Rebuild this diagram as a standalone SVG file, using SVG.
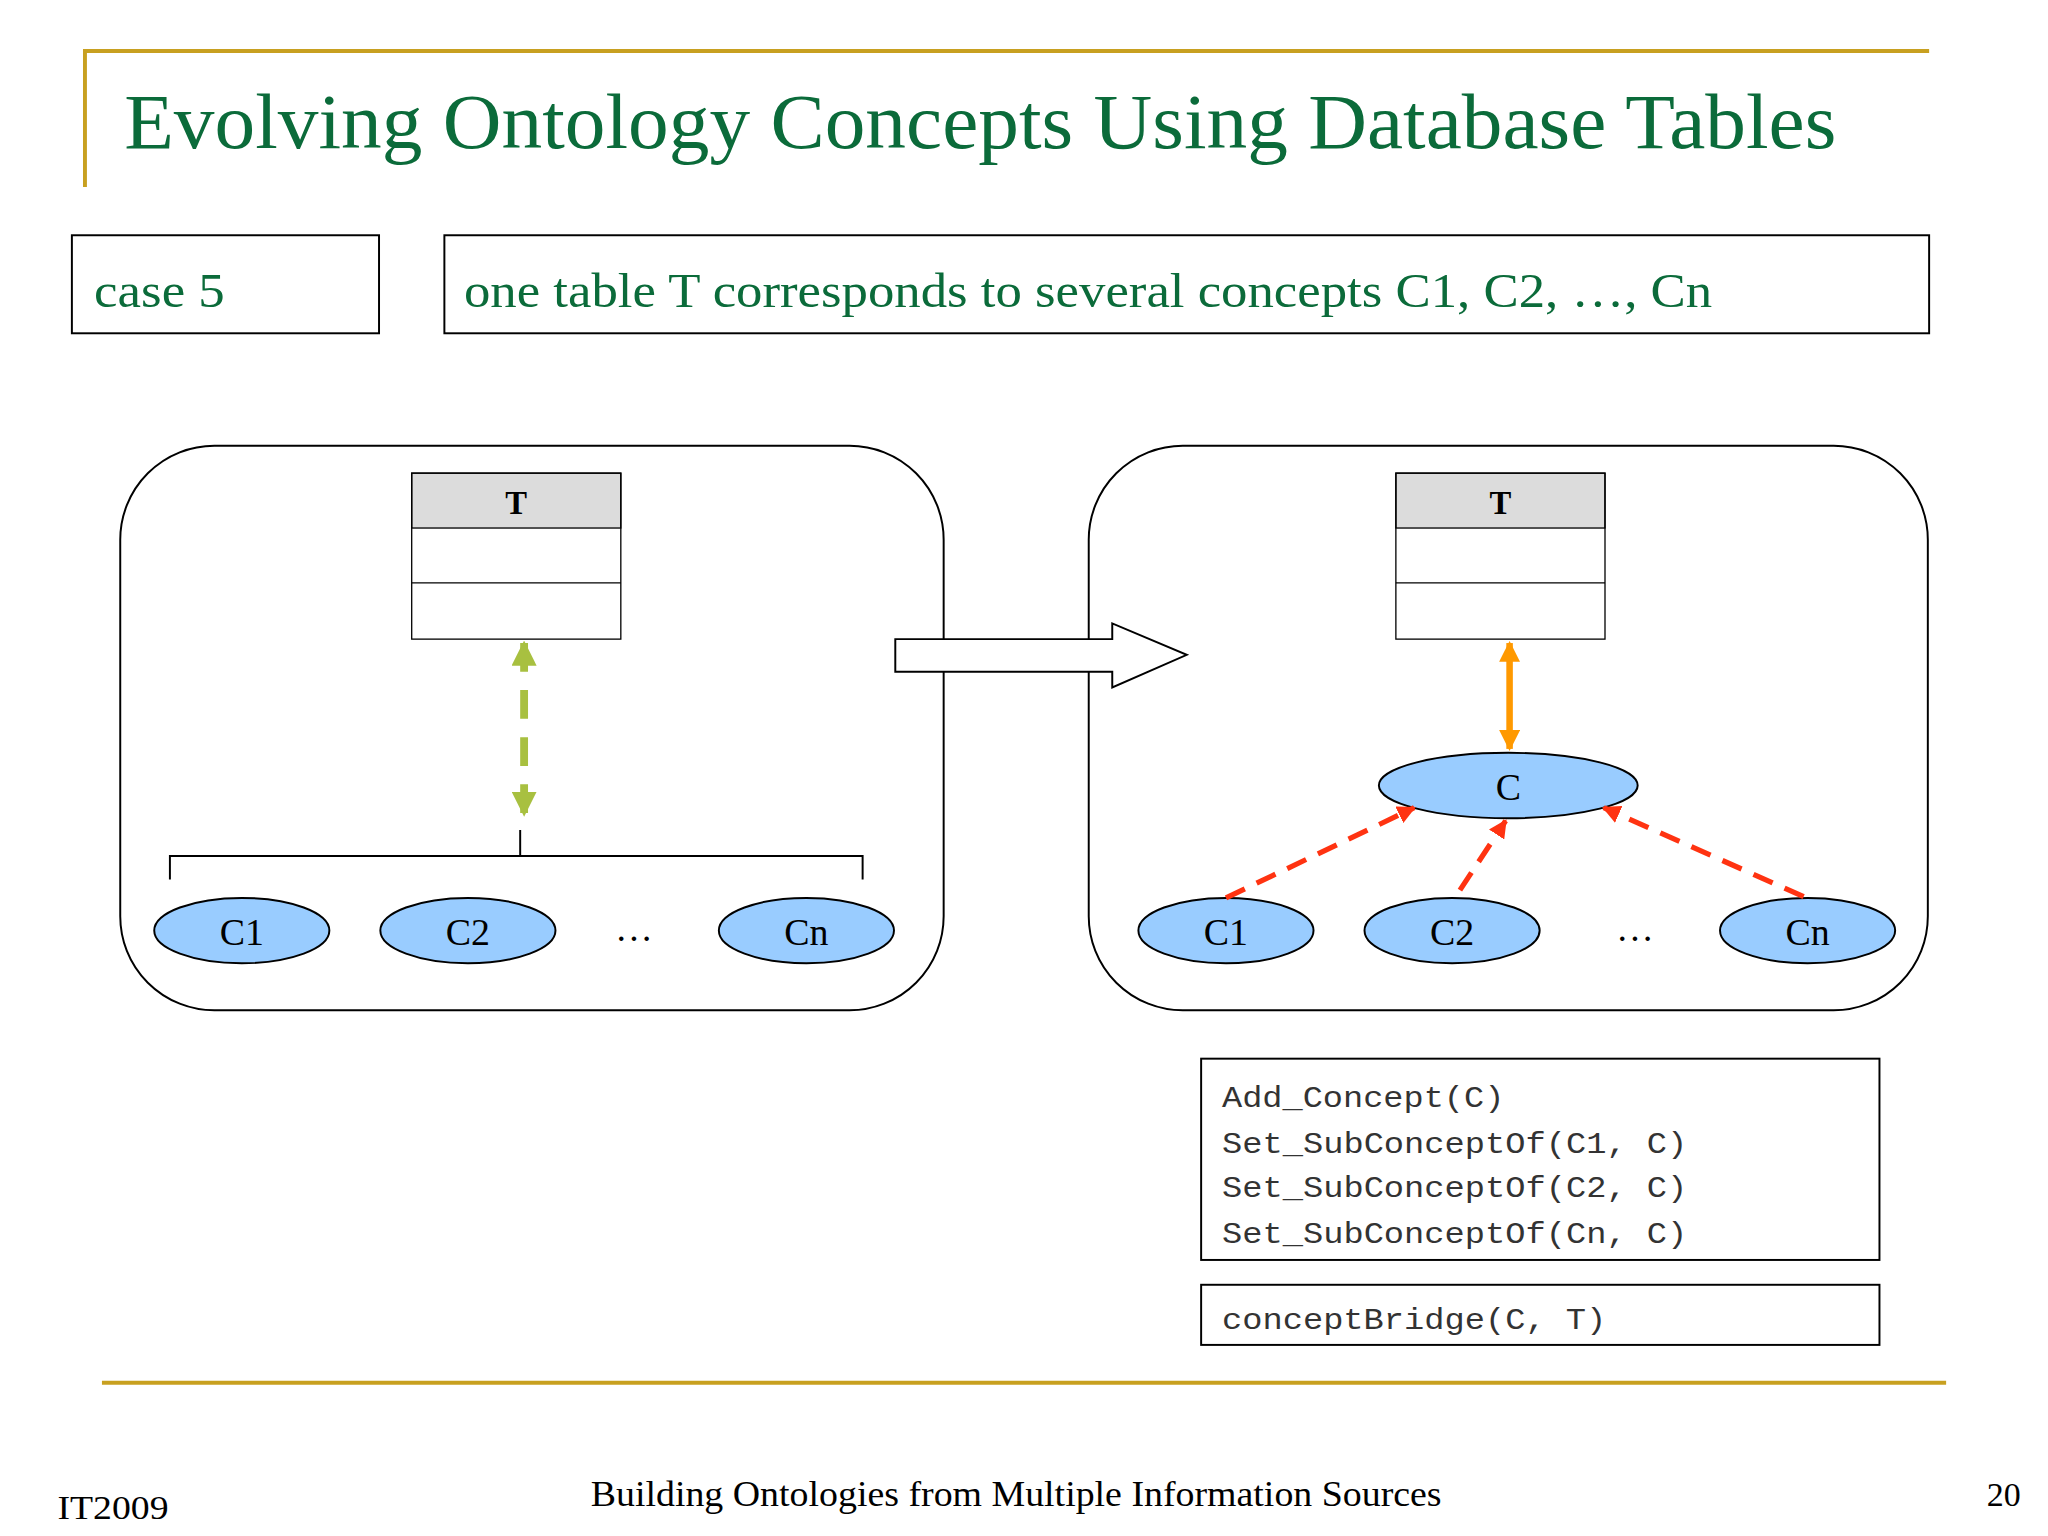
<svg xmlns="http://www.w3.org/2000/svg" width="2048" height="1536" viewBox="0 0 2048 1536">
<defs>
<style>
.s{font-family:"Liberation Serif",serif}
.m{font-family:"Liberation Mono",monospace;font-size:23px;fill:#333}
.box{fill:none;stroke:#000;stroke-width:1.5}
.ell{fill:#99ccff;stroke:#000;stroke-width:1.5}
.lbl{font-family:"Liberation Serif",serif;font-size:29px;text-anchor:middle}
</style>
<marker id="ag" viewBox="0 0 10 10" refX="9" refY="5" markerWidth="3.2" markerHeight="3.2" orient="auto-start-reverse"><path d="M0,0L10,5L0,10z" fill="#a8c040"/></marker>
<marker id="ao" viewBox="0 0 10 10" refX="9" refY="5" markerWidth="3.2" markerHeight="3.2" orient="auto-start-reverse"><path d="M0,0L10,5L0,10z" fill="#ff9900"/></marker>
<marker id="ar" viewBox="0 0 10 10" refX="9" refY="5" markerWidth="3.5" markerHeight="3.5" orient="auto"><path d="M0,0L10,5L0,10z" fill="#ff3311"/></marker>
</defs>
<rect width="2048" height="1536" fill="#fff"/>
<g transform="scale(1.307)">
<g id="title">
<path d="M65,143V39H1476" fill="none" stroke="#c8a020" stroke-width="3"/>
<text x="95" y="113" class="s" font-size="60" fill="#0b6b3a" textLength="1310" lengthAdjust="spacingAndGlyphs">Evolving Ontology Concepts Using Database Tables</text>
</g>
<g id="case"><rect x="55" y="180" width="235" height="75" class="box"/><text x="72" y="235" class="s" font-size="37" fill="#0b6b3a" textLength="100" lengthAdjust="spacingAndGlyphs">case 5</text></g>
<g id="desc"><rect x="340" y="180" width="1136" height="75" class="box"/><text x="355" y="235" class="s" font-size="37" fill="#0b6b3a" textLength="955" lengthAdjust="spacingAndGlyphs">one table T corresponds to several concepts C1, C2, …, Cn</text></g>
<g id="leftPanel"><rect x="92" y="341" width="630" height="432" rx="72" class="box"/></g>
<g id="rightPanel"><rect x="833" y="341" width="642" height="432" rx="72" class="box"/></g>
<g id="tableL"><rect x="315" y="362" width="160" height="42" fill="#dcdcdc" stroke="#000"/><rect x="315" y="362" width="160" height="127" fill="none" stroke="#000"/><line x1="315" y1="446" x2="475" y2="446" stroke="#000"/><text x="395" y="393" class="s" font-size="25" font-weight="bold" text-anchor="middle">T</text></g>
<g id="tableR"><rect x="1068" y="362" width="160" height="42" fill="#dcdcdc" stroke="#000"/><rect x="1068" y="362" width="160" height="127" fill="none" stroke="#000"/><line x1="1068" y1="446" x2="1228" y2="446" stroke="#000"/><text x="1148" y="393" class="s" font-size="25" font-weight="bold" text-anchor="middle">T</text></g>
<g id="L_C1"><ellipse cx="185" cy="712" rx="67" ry="25" class="ell"/><text x="185" y="723" class="lbl">C1</text></g>
<g id="L_C2"><ellipse cx="358" cy="712" rx="67" ry="25" class="ell"/><text x="358" y="723" class="lbl">C2</text></g>
<g id="L_Cn"><ellipse cx="617" cy="712" rx="67" ry="25" class="ell"/><text x="617" y="723" class="lbl">Cn</text></g>
<text x="485" y="720" class="lbl">…</text>
<g id="R_C"><ellipse cx="1154" cy="601" rx="99" ry="25" class="ell"/><text x="1154" y="612" class="lbl">C</text></g>
<g id="R_C1"><ellipse cx="938" cy="712" rx="67" ry="25" class="ell"/><text x="938" y="723" class="lbl">C1</text></g>
<g id="R_C2"><ellipse cx="1111" cy="712" rx="67" ry="25" class="ell"/><text x="1111" y="723" class="lbl">C2</text></g>
<g id="R_Cn"><ellipse cx="1383" cy="712" rx="67" ry="25" class="ell"/><text x="1383" y="723" class="lbl">Cn</text></g>
<text x="1251" y="720" class="lbl">…</text>
<g id="connectors">
<line x1="401" y1="492" x2="401" y2="623" stroke="#a8c040" stroke-width="6" stroke-dasharray="22,14" marker-start="url(#ag)" marker-end="url(#ag)"/>
<path d="M130,673V655H660V673M398,655V635" fill="none" stroke="#000" stroke-width="1.5"/>
<line x1="1155" y1="492" x2="1155" y2="573" stroke="#ff9900" stroke-width="5" marker-start="url(#ao)" marker-end="url(#ao)"/>
<line x1="938" y1="687" x2="1082" y2="618" stroke="#ff3311" stroke-width="4" stroke-dasharray="16,10" marker-end="url(#ar)"/>
<line x1="1117" y1="681" x2="1152" y2="628" stroke="#ff3311" stroke-width="4" stroke-dasharray="16,10" marker-end="url(#ar)"/>
<line x1="1380" y1="686" x2="1227" y2="618" stroke="#ff3311" stroke-width="4" stroke-dasharray="16,10" marker-end="url(#ar)"/>
<path d="M685,489H851V477L908,501L851,526V514H685z" fill="#fff" stroke="#000" stroke-width="1.5"/>
</g>
<g id="code"><rect x="919" y="810" width="519" height="154" class="box"/>
<text x="935" y="847" class="m" textLength="216" lengthAdjust="spacingAndGlyphs">Add_Concept(C)</text>
<text x="935" y="882" class="m" textLength="356" lengthAdjust="spacingAndGlyphs">Set_SubConceptOf(C1, C)</text>
<text x="935" y="916" class="m" textLength="356" lengthAdjust="spacingAndGlyphs">Set_SubConceptOf(C2, C)</text>
<text x="935" y="951" class="m" textLength="356" lengthAdjust="spacingAndGlyphs">Set_SubConceptOf(Cn, C)</text></g>
<g id="bridge"><rect x="919" y="983" width="519" height="46" class="box"/><text x="935" y="1017" class="m" textLength="294" lengthAdjust="spacingAndGlyphs">conceptBridge(C, T)</text></g>
<g id="footer">
<line x1="78" y1="1058" x2="1489" y2="1058" stroke="#c8a020" stroke-width="3"/>
<text x="44" y="1162" class="s" font-size="26" textLength="85" lengthAdjust="spacingAndGlyphs">IT2009</text>
<text x="452" y="1152" class="s" font-size="28" textLength="651" lengthAdjust="spacingAndGlyphs">Building Ontologies from Multiple Information Sources</text>
<text x="1546" y="1152" class="s" font-size="26" text-anchor="end">20</text>
</g>
</g>
</svg>
